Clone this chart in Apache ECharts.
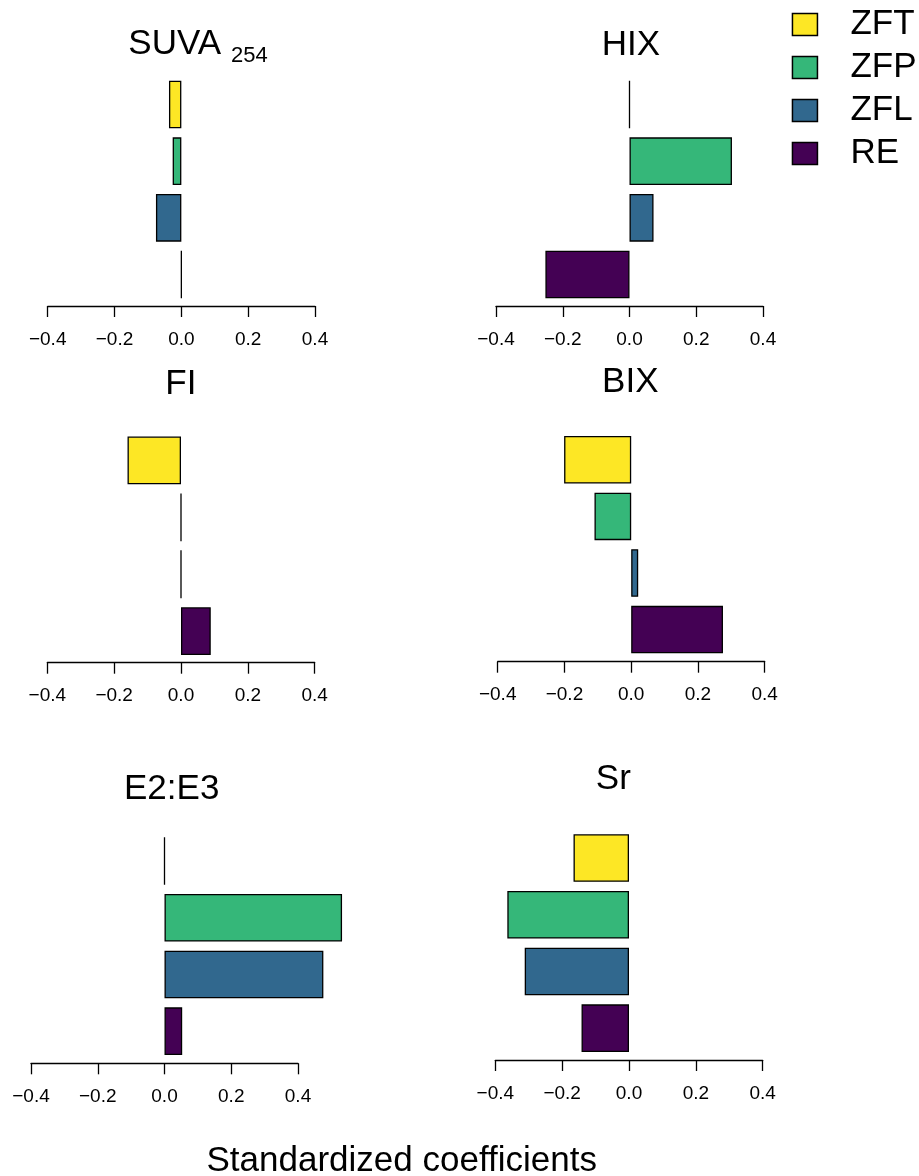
<!DOCTYPE html>
<html>
<head>
<meta charset="utf-8">
<script src="https://cdn.jsdelivr.net/npm/echarts@6/dist/echarts.min.js"></script>
<style>
  html, body { margin: 0; padding: 0; background: #fff; }
  #chart { width: 919px; height: 1176px; }
</style>
</head>
<body>
<div id="chart"></div>
<script>
// Predictor groups and their viridis colours
const groups = ['ZFT', 'ZFP', 'ZFL', 'RE'];
const groupColors = ['#FDE725', '#35B779', '#31688E', '#440154'];

// Response indices (panel titles); the first one carries a subscript
const indexNames = ['SUVA', 'HIX', 'FI', 'BIX', 'E2:E3', 'Sr'];
const indexSubscripts = ['254', '', '', '', '', ''];

// Standardized coefficients, in the order ZFT, ZFP, ZFL, RE
const suva254 = [-0.037, -0.026, -0.076, 0];
const hix     = [0, 0.307, 0.072, -0.252];
const fi      = [-0.160, 0, 0, 0.089];
const bix     = [-0.201, -0.110, 0.021, 0.275];
const e2e3    = [0, 0.532, 0.476, 0.053];
const sr      = [-0.166, -0.364, -0.312, -0.142];

// Shared x axis ticks and caption
const xTicks = [-0.4, -0.2, 0.0, 0.2, 0.4];
const xCaption = 'Standardized coefficients';

const panelValues = [suva254, hix, fi, bix, e2e3, sr];

// Plot boxes (pixels) for the 3 x 2 panel layout
const panelBoxes = [
  { left: 47.7,  width: 267.3, top: 76.1,  height: 226.8, offset: 3.1 },
  { left: 496.0, width: 267.0, top: 76.1,  height: 226.8, offset: 3.1 },
  { left: 47.3,  width: 267.4, top: 432.0, height: 227.6, offset: 3.1 },
  { left: 497.7, width: 267.0, top: 431.5, height: 226.4, offset: 3.8 },
  { left: 31.0,  width: 267.0, top: 832.7, height: 226.8, offset: 3.8 },
  { left: 495.3, width: 267.4, top: 829.7, height: 226.8, offset: 3.5 }
];
// Title anchors (pixels): x is the centre, except for the subscripted title
const titleAnchors = [
  { x: 128.3, y: 44.8, align: 'left', subX: 231, subY: 56.3 },
  { x: 630.8, y: 45.5, align: 'center' },
  { x: 180.8, y: 384.7, align: 'center' },
  { x: 630.3, y: 382.5, align: 'center' },
  { x: 171.7, y: 789.8, align: 'center' },
  { x: 613.3, y: 779.8, align: 'center' }
];

const FONT = '"Liberation Sans", Arial, Helvetica, sans-serif';
const LINE_W = 1.3;

function tickText(v) {
  if (Math.abs(v) < 1e-9) return '0.0';
  return (v < 0 ? '\u2212' : '') + Math.abs(v).toFixed(1);
}

const grids = [], xAxes = [], yAxes = [], series = [], graphics = [];

panelBoxes.forEach((b, p) => {
  grids.push({ left: b.left, top: b.top, width: b.width, height: b.height, containLabel: false });
  xAxes.push({
    type: 'value',
    gridIndex: p,
    min: xTicks[0],
    max: xTicks[xTicks.length - 1],
    interval: xTicks[1] - xTicks[0],
    offset: b.offset,
    axisLine: { show: true, onZero: false, lineStyle: { color: '#000', width: LINE_W } },
    axisTick: { show: true, length: 11, inside: false, lineStyle: { color: '#000', width: LINE_W } },
    axisLabel: {
      show: true, margin: 24, color: '#000', fontSize: 19, fontFamily: FONT,
      showMinLabel: true, showMaxLabel: true, hideOverlap: false,
      formatter: tickText
    },
    splitLine: { show: false }
  });
  yAxes.push({
    type: 'category',
    gridIndex: p,
    data: groups,
    inverse: true,
    show: false
  });
  groups.forEach((g, k) => {
    series.push({
      type: 'bar',
      name: g,
      xAxisIndex: p,
      yAxisIndex: p,
      stack: 'panel' + p,
      barCategoryGap: '16%',
      clip: false,
      silent: true,
      itemStyle: { color: groupColors[k], borderColor: '#000', borderWidth: LINE_W },
      data: panelValues[p].map((v, i) => (i === k ? v : '-'))
    });
  });

  const t = titleAnchors[p];
  graphics.push({
    type: 'text', x: t.x, y: t.y, silent: true,
    style: { text: indexNames[p], fill: '#000', font: '35px ' + FONT, textAlign: t.align, textVerticalAlign: 'middle' }
  });
  if (indexSubscripts[p]) {
    graphics.push({
      type: 'text', x: t.subX, y: t.subY, silent: true,
      style: { text: indexSubscripts[p], fill: '#000', font: '22px ' + FONT, textAlign: 'left', textVerticalAlign: 'middle' }
    });
  }
});

// Shared x caption
graphics.push({
  type: 'text', x: 401.7, y: 1161.5, silent: true,
  style: { text: xCaption, fill: '#000', font: '35px ' + FONT, textAlign: 'center', textVerticalAlign: 'middle' }
});

const chart = echarts.init(document.getElementById('chart'), null, { renderer: 'canvas' });
chart.setOption({
  animation: false,
  backgroundColor: '#fff',
  grid: grids,
  xAxis: xAxes,
  yAxis: yAxes,
  legend: {
    data: groups,
    orient: 'vertical',
    left: 791.7,
    top: 6.5,
    padding: 0,
    icon: 'rect',
    itemWidth: 25,
    itemHeight: 22,
    itemGap: 7,
    selectedMode: false,
    itemStyle: { borderColor: '#000', borderWidth: 1.5 },
    textStyle: { fontSize: 35, fontFamily: FONT, color: '#000', lineHeight: 36, padding: [0, 0, 0, 28] }
  },
  series: series,
  graphic: graphics
});
</script>
</body>
</html>
